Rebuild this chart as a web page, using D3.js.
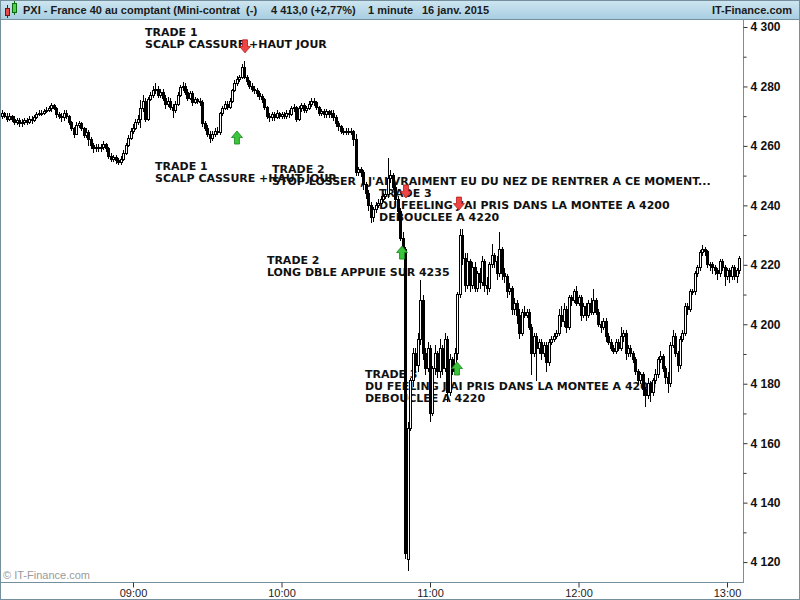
<!DOCTYPE html>
<html>
<head>
<meta charset="utf-8">
<script src="https://cdn.jsdelivr.net/npm/d3@7"></script>
<style>
  body { margin: 0; background: #fff; }
  svg { display: block; }
  .ann text { font-family: "DejaVu Sans", Verdana, sans-serif; font-weight: bold; font-size: 11px; fill: #111; }
  .yaxis text { font-family: "Liberation Sans", Arial, sans-serif; font-weight: bold; font-size: 12px; fill: #111; }
  .xaxis text { font-family: "Liberation Sans", Arial, sans-serif; font-size: 11px; fill: #222; }
  .head text { font-family: "Liberation Sans", Arial, sans-serif; font-weight: bold; font-size: 11px; fill: #1b1b1b; }
</style>
</head>
<body>
<div id="container"></div>
<script>
// 1 minute candles, first one at 08:07 (minutes since midnight)
var startMinute = 487;

var opens = [
 4270,4271,4270,4269,4270,4269,4268,4268.5,4267.5,4268,
 4268.5,4268,4269,4268.5,4269.5,4270.5,4271,4271,4271.5,4272,
 4272.5,4273.5,4272.5,4270.5,4270,4269.5,4271,4270,4268,4266,
 4264,4267,4267.5,4266,4263.5,4264.5,4262,4260,4259,4259.5,
 4259,4259.5,4260.5,4259,4256.5,4255.5,4256,4255,4254.5,4255.5,
 4257.5,4260,4262.5,4265,4266,4268,4269,4272.5,4275,4269,
 4275.5,4277,4278.5,4279,4277,4278,4276,4274,4275,4273,
 4272,4274,4277,4279.5,4280,4278,4276,4277.5,4274.5,4275.5,
 4275,4274.5,4267.5,4266,4264,4262.5,4264,4265,4264.5,4271,
 4272.5,4274,4273,4275,4278.5,4281,4282.5,4283,4286.5,4283,
 4281.5,4280,4279,4278.5,4277.5,4276.5,4275.5,4273,4270,4269.5,
 4270.5,4269.5,4271,4270,4270.5,4270,4271,4270.5,4272.5,4273,
 4269,4272.5,4273.5,4272,4272.5,4274,4275,4274.5,4273,4271,
 4271.5,4270.5,4271.5,4270.5,4271,4269.5,4267.5,4266.5,4265,4264.5,
 4265,4264.5,4265,4262,4251,4252,4251,4247,4244,4240,
 4236,4238.5,4240,4240.5,4242,4243,4243.5,4249,4250,4246,
 4242,4238,4229,4225,4121,4165,4181,4190,4186,4195,
 4208,4190,4185,4192,4170,4185,4190,4184,4192,4185,
 4195,4177,4188,4184,4190,4210,4230,4222,4213,4221,
 4213,4219,4212,4217,4214,4221,4213,4212,4220,4223,
 4221,4217,4225,4217,4216,4211,4212,4205,4207,4203,
 4197,4204,4203,4204,4199,4190,4196,4192,4194,4190,
 4193,4187,4194,4195,4196,4197,4203,4201,4205,4199,
 4209,4208,4211,4207,4209,4203,4206,4203,4207,4204,
 4208,4204,4200,4199,4201,4196,4194,4192,4191,4194,
 4192,4196,4197,4190,4192,4190,4188,4184,4181,4183,
 4178,4176,4180,4177,4181,4183,4188,4189,4185,4182,
 4180,4193,4196,4190,4186,4195,4197,4206,4205,4211,
 4211,4217,4219,4224,4225,4224.5,4220,4220,4219,4218,
 4217,4221,4219,4216,4218,4216,4219,4216,4218
];
var highs = [
 4272,4271.5,4271,4271,4270.5,4270,4269.5,4269.5,4269,4269.5,
 4269.5,4270,4270,4270.5,4271.5,4272,4272,4272.5,4273,4273.5,
 4274.5,4274,4273,4271.5,4271,4272,4272,4270.5,4268.5,4266.5,
 4268,4268.5,4268,4266.5,4266,4265.5,4263,4261,4260.5,4260.5,
 4260.5,4261.5,4261,4259.5,4257.5,4257,4257,4256,4256.5,4258.5,
 4261,4263.5,4266,4267.5,4269,4270.5,4275.5,4277,4276,4276.5,
 4278,4280,4281,4280,4279,4279,4277,4276.5,4276,4274,
 4275,4278,4280.5,4281.5,4281,4279,4278.5,4278.5,4276.5,4276,
 4276,4275.5,4268.5,4267,4265,4265,4266,4266.5,4271.5,4273.5,
 4275,4275,4276,4279,4282,4283.5,4284,4287.5,4288.5,4284,
 4282,4281,4280,4279.5,4278.5,4277.5,4276,4273.5,4271,4271.5,
 4271.5,4272,4271.5,4271.5,4271.5,4272,4272,4273.5,4274,4273.5,
 4273.5,4274.5,4274.5,4273.5,4275,4276,4276,4275,4273.5,4272.5,
 4272.5,4272.5,4272,4272,4272,4270.5,4268.5,4267,4266,4266,
 4266,4266,4265.5,4264,4253,4253,4252,4248,4245,4241,
 4239.5,4241,4242,4243,4244,4245,4256,4252,4251,4247,
 4243,4239,4231,4226,4167,4182,4192,4192,4197,4215,
 4210,4192,4194,4193,4186,4193,4191,4195,4193,4197,
 4196,4190,4189,4192,4211,4232,4232,4224,4224,4222,
 4221,4221,4218,4219,4223,4222,4216,4221,4227,4224,
 4223,4231,4226,4219,4217,4214,4213,4209,4208,4205,
 4205,4206,4205,4205,4200,4197,4197,4195,4195,4194,
 4194,4195,4196,4197,4198,4205,4206,4207,4206,4210,
 4210,4212,4213,4210,4210,4207,4207,4208,4209,4212,
 4209,4205,4201,4202,4202,4197,4195,4193,4195,4195,
 4199,4198,4198,4193,4193,4191,4189,4185,4184,4184,
 4179,4182,4181,4182,4185,4189,4191,4190,4186,4184,
 4194,4198,4197,4191,4196,4198,4207,4207,4212,4212,
 4218,4220,4225,4226.5,4226,4225,4221,4221,4220,4219,
 4222,4222,4220,4219,4219,4220,4220,4219,4223
];
var lows = [
 4269,4269.5,4268,4268.5,4268,4267,4267,4266.5,4266.5,4267,
 4267,4267.5,4267.5,4268,4269,4270,4270,4270.5,4271,4271.5,
 4271.5,4272,4269.5,4269,4268,4268.5,4269,4267,4265,4262.5,
 4263.5,4266,4265,4262.5,4262.5,4260,4259,4257.5,4258,4258,
 4258,4258.5,4258,4255.5,4254.5,4254.5,4254,4253.5,4253.5,4255,
 4257,4259.5,4262,4264,4265.5,4267,4266,4271.5,4268,4268.5,
 4275,4276,4277.5,4276,4276,4275,4272.5,4273,4272,4269.5,
 4271,4273.5,4276.5,4278.5,4277,4275,4275.5,4273.5,4274,4274,
 4273.5,4266.5,4265,4263,4261,4261.5,4263,4263.5,4263.5,4270,
 4272,4272,4272.5,4274.5,4278,4280,4281.5,4282.5,4282.5,4280.5,
 4279,4278,4277.5,4276.5,4275.5,4274.5,4272,4269,4268,4268.5,
 4268.5,4269,4269,4269,4269,4269,4269.5,4270,4271.5,4268,
 4268.5,4271.5,4271,4271,4272,4273,4273.5,4272,4270,4270,
 4269.5,4269.5,4269.5,4269.5,4268.5,4266.5,4265,4264,4263.5,4263.5,
 4263.5,4263.5,4260,4250,4250,4249.5,4245,4242,4238,4234,
 4234.5,4237.5,4239,4239.5,4241,4242,4242.5,4247.5,4245,4240,
 4235,4228,4223,4121,4117,4164,4179,4184,4184,4193,
 4188,4183,4184,4167,4169,4183,4182,4182,4183,4184,
 4174,4176,4183,4183,4188,4209,4220,4211,4212,4211,
 4212,4211,4211,4212,4213,4211,4210,4211,4219,4219,
 4215,4216,4215,4214,4209,4210,4203,4203,4200,4195,
 4196,4202,4202,4198,4183,4189,4181,4190,4188,4189,
 4184,4186,4193,4194,4195,4196,4199,4199,4197,4198,
 4206,4207,4206,4206,4201,4202,4201,4202,4203,4203,
 4203,4199,4197,4198,4194,4193,4191,4190,4190,4191,
 4191,4194,4188,4189,4189,4187,4183,4180,4180,4176,
 4172,4175,4174,4176,4180,4182,4187,4184,4180,4177,
 4179,4192,4189,4184,4185,4194,4196,4203,4204,4210,
 4210,4216,4218,4223,4223,4219,4218,4217,4216.5,4215,
 4216,4218,4213,4215,4214,4215,4215,4214,4217
];
var closes = [
 4271,4270,4269,4270,4269,4268,4268.5,4267.5,4268,4268.5,
 4268,4269,4268.5,4269.5,4270.5,4271,4271,4271.5,4272,4272.5,
 4273.5,4272.5,4270.5,4270,4269.5,4271,4270,4268,4266,4264,
 4267,4267.5,4266,4263.5,4264.5,4262,4260,4259,4259.5,4259,
 4259.5,4260.5,4259,4256.5,4255.5,4256,4255,4254.5,4255.5,4257.5,
 4260,4262.5,4265,4266,4268,4269,4272.5,4275,4269,4275.5,
 4277,4278.5,4279,4277,4278,4276,4274,4275,4273,4272,
 4274,4277,4279.5,4280,4278,4276,4277.5,4274.5,4275.5,4275,
 4274.5,4267.5,4266,4264,4262.5,4264,4265,4264.5,4271,4272.5,
 4274,4273,4275,4278.5,4281,4282.5,4283,4286.5,4283,4281.5,
 4280,4279,4278.5,4277.5,4276.5,4275.5,4273,4270,4269.5,4270.5,
 4269.5,4271,4270,4270.5,4270,4271,4270.5,4272.5,4273,4269,
 4272.5,4273.5,4272,4272.5,4274,4275,4274.5,4273,4271,4271.5,
 4270.5,4271.5,4270.5,4271,4269.5,4267.5,4266.5,4265,4264.5,4265,
 4264.5,4265,4262,4251,4252,4251,4247,4244,4240,4236,
 4238.5,4240,4240.5,4242,4243,4243.5,4249,4250,4246,4242,
 4238,4229,4225,4123,4165,4181,4190,4186,4195,4208,
 4190,4185,4192,4170,4185,4190,4184,4192,4185,4195,
 4177,4188,4184,4190,4210,4230,4222,4213,4221,4213,
 4219,4212,4217,4214,4221,4213,4212,4220,4223,4221,
 4217,4225,4217,4216,4211,4212,4205,4207,4203,4197,
 4204,4203,4204,4199,4190,4196,4192,4194,4190,4193,
 4187,4194,4195,4196,4197,4203,4201,4205,4199,4209,
 4208,4211,4207,4209,4203,4206,4203,4207,4204,4208,
 4204,4200,4199,4201,4196,4194,4192,4191,4194,4192,
 4196,4197,4190,4192,4190,4188,4184,4181,4183,4178,
 4176,4180,4177,4181,4183,4188,4189,4185,4182,4180,
 4193,4196,4190,4186,4195,4197,4206,4205,4211,4211,
 4217,4219,4224,4225,4224.5,4220,4220,4219,4218,4217,
 4221,4219,4216,4218,4216,4219,4216,4218,4222
];

var priceTicks = [4120, 4140, 4160, 4180, 4200, 4220, 4240, 4260, 4280, 4300];
var priceMinorTicks = [4130, 4150, 4170, 4190, 4210, 4230, 4250, 4270, 4290];
var timeTicks = [540, 600, 660, 720, 780];
var timeLabels = ["09:00", "10:00", "11:00", "12:00", "13:00"];

// annotations typed on the chart (anchor = minute, price of first baseline)
var noteMinutes = [544.85, 548.9, 596.2, 639.4, 594.1, 633.7];
var notePrices = [4296.9, 4251.9, 4250.8, 4242.8, 4220.4, 4181.8];
var noteLines = [
    ["TRADE 1", "SCALP CASSURE +HAUT JOUR"],
    ["TRADE 1", "SCALP CASSURE +HAUT JOUR"],
    ["TRADE 2", "STOP LOSSER , J'AI VRAIMENT EU DU NEZ DE RENTRER A CE MOMENT..."],
    ["TRADE 3", "DU FEELING J'AI PRIS DANS LA MONTEE A 4200", "DEBOUCLEE A 4220"],
    ["TRADE 2", "LONG DBLE APPUIE SUR 4235"],
    ["TRADE 3", "DU FEELING J'AI PRIS DANS LA MONTEE A 4200", "DEBOUCLEE A 4220"]
];

// buy / sell markers (anchor = arrow tip)
var arrowMinutes = [585.25, 582.0, 650.3, 671.7, 648.7, 670.9];
var arrowPrices = [4291.3, 4265.0, 4242.5, 4238.4, 4226.3, 4187.3];
var arrowDirs = ["down", "up", "down", "down", "up", "up"];

var width = 800, height = 600,
    plot = {left: 0, top: 20, right: 743, bottom: 582},
    frameColor = "#748f9e";

var candles = closes.map(function(c, i) {
    return {t: startMinute + i, o: opens[i], h: highs[i], l: lows[i], c: c};
});

var x = d3.scaleLinear()
    .domain([486.26, 786.26])
    .range([0, 742.5]);
var y = d3.scaleLinear()
    .domain([4113.3, 4302.35])
    .range([plot.bottom, plot.top]);

var fr = d3.formatLocale({decimal: ",", thousands: " ", grouping: [3], currency: ["", ""]});
var priceFormat = fr.format(",d");

var svg = d3.select("#container").append("svg")
    .attr("width", width)
    .attr("height", height)
    .style("shape-rendering", "auto");

var defs = svg.append("defs");
var grad = defs.append("linearGradient")
    .attr("id", "headGrad")
    .attr("x1", 0).attr("y1", 0).attr("x2", 0).attr("y2", 1);
grad.append("stop").attr("offset", "0%").attr("stop-color", "#cfe6f1");
grad.append("stop").attr("offset", "100%").attr("stop-color", "#a6cde0");

svg.append("rect")
    .attr("width", width).attr("height", height)
    .attr("fill", "#fff");

// header bar
var head = svg.append("g").attr("class", "head");
head.append("rect")
    .attr("x", 0).attr("y", 0)
    .attr("width", width).attr("height", 20)
    .attr("fill", "url(#headGrad)");
head.append("line")
    .attr("x1", 0).attr("x2", width)
    .attr("y1", 19.5).attr("y2", 19.5)
    .attr("stroke", frameColor);

// little candle icon
var icon = head.append("g").style("shape-rendering", "crispEdges");
icon.append("line").attr("x1", 7.5).attr("x2", 7.5).attr("y1", 5).attr("y2", 18).attr("stroke", "#7a1010");
icon.append("rect").attr("x", 5.5).attr("y", 8.5).attr("width", 4).attr("height", 7)
    .attr("fill", "#e84a4a").attr("stroke", "#7a1010");
icon.append("line").attr("x1", 14.5).attr("x2", 14.5).attr("y1", 1).attr("y2", 15).attr("stroke", "#0e6a0e");
icon.append("rect").attr("x", 12.5).attr("y", 3.5).attr("width", 4).attr("height", 9)
    .attr("fill", "#4fd04f").attr("stroke", "#0e6a0e");

var headTexts = [
    {x: 23, t: "PXI - France 40 au comptant (Mini-contrat  (-)", a: "start"},
    {x: 271, t: "4 413,0 (+2,77%)", a: "start"},
    {x: 368, t: "1 minute", a: "start"},
    {x: 422, t: "16 janv. 2015", a: "start"},
    {x: 792, t: "IT-Finance.com", a: "end"}
];
head.selectAll("text.h")
    .data(headTexts)
    .enter().append("text")
    .attr("class", "h")
    .attr("x", function(d) { return d.x; })
    .attr("y", 14)
    .attr("text-anchor", function(d) { return d.a; })
    .attr("xml:space", "preserve")
    .style("white-space", "pre")
    .text(function(d) { return d.t; });

// annotations (drawn under the candles, like the original)
var ann = svg.append("g").attr("class", "ann");
noteLines.forEach(function(lines, k) {
    var t = ann.append("text")
        .attr("x", x(noteMinutes[k]))
        .attr("y", y(notePrices[k]));
    lines.forEach(function(line, j) {
        t.append("tspan")
            .attr("x", x(noteMinutes[k]))
            .attr("dy", j === 0 ? 0 : 12)
            .text(line);
    });
});

// candles
var cg = svg.append("g")
    .attr("class", "candles")
    .style("shape-rendering", "crispEdges");

cg.selectAll("line.wick")
    .data(candles)
    .enter().append("line")
    .attr("class", "wick")
    .attr("x1", function(d) { return Math.round(x(d.t)) + 0.5; })
    .attr("x2", function(d) { return Math.round(x(d.t)) + 0.5; })
    .attr("y1", function(d) { return y(d.h); })
    .attr("y2", function(d) { return y(d.l); })
    .attr("stroke", "#000");

cg.selectAll("rect.body")
    .data(candles)
    .enter().append("rect")
    .attr("class", "body")
    .attr("x", function(d) { return Math.round(x(d.t)) - 0.5; })
    .attr("y", function(d) { return y(Math.max(d.o, d.c)); })
    .attr("width", 2)
    .attr("height", function(d) { return Math.max(1, Math.abs(y(d.o) - y(d.c))); })
    .attr("fill", function(d) { return d.c >= d.o ? "#fff" : "#000"; })
    .attr("stroke", "#000")
    .attr("stroke-width", 1);

// arrows
function arrowPath(dir) {
    var s = dir === "down" ? -1 : 1;
    return "M-2.5," + (13 * s) + "L2.5," + (13 * s) + "L2.5," + (6.5 * s) +
        "L5.5," + (6.5 * s) + "L0,0L-5.5," + (6.5 * s) + "L-2.5," + (6.5 * s) + "Z";
}
svg.append("g").attr("class", "arrows")
    .selectAll("path")
    .data(arrowDirs)
    .enter().append("path")
    .attr("transform", function(d, i) {
        return "translate(" + x(arrowMinutes[i]) + "," + y(arrowPrices[i]) + ")";
    })
    .attr("d", function(d) { return arrowPath(d); })
    .attr("fill", function(d) { return d === "down" ? "#ee4444" : "#3cc43c"; })
    .attr("stroke", function(d) { return d === "down" ? "#b31b1b" : "#15861a"; })
    .attr("stroke-width", 0.8);

// frame
var frame = svg.append("g").style("shape-rendering", "crispEdges");
frame.append("line")
    .attr("x1", 0.5).attr("x2", 0.5).attr("y1", 20).attr("y2", height)
    .attr("stroke", frameColor);
frame.append("line")
    .attr("x1", 0).attr("x2", plot.right + 0.5).attr("y1", plot.bottom + 0.5).attr("y2", plot.bottom + 0.5)
    .attr("stroke", frameColor);
frame.append("line")
    .attr("x1", plot.right + 0.5).attr("x2", plot.right + 0.5).attr("y1", 20).attr("y2", plot.bottom + 0.5)
    .attr("stroke", frameColor);
frame.append("rect")
    .attr("x", 0.5).attr("y", 0.5).attr("width", width - 1).attr("height", height - 1)
    .attr("fill", "none").attr("stroke", frameColor);

// right price axis
var yAxis = svg.append("g")
    .attr("class", "yaxis")
    .attr("transform", "translate(" + (plot.right + 0.5) + ",0)")
    .call(d3.axisRight(y).tickValues(priceTicks).tickSize(4).tickPadding(3).tickFormat(priceFormat));
yAxis.select(".domain").remove();
yAxis.selectAll(".tick line").attr("stroke", "#333");

var yMinor = svg.append("g")
    .attr("transform", "translate(" + (plot.right + 0.5) + ",0)")
    .call(d3.axisRight(y).tickValues(priceMinorTicks).tickSize(3).tickFormat(""));
yMinor.select(".domain").remove();
yMinor.selectAll(".tick line").attr("stroke", "#333");

// bottom time axis
var xAxis = svg.append("g")
    .attr("class", "xaxis")
    .attr("transform", "translate(0," + (plot.bottom + 0.5) + ")")
    .call(d3.axisBottom(x).tickValues(timeTicks).tickSize(5).tickPadding(2)
        .tickFormat(function(d, i) { return timeLabels[i]; }));
xAxis.select(".domain").remove();
xAxis.selectAll(".tick line").attr("stroke", "#333");

svg.append("text")
    .attr("x", 3)
    .attr("y", 579)
    .style("font-family", "'Liberation Sans', Arial, sans-serif")
    .style("font-size", "11px")
    .attr("fill", "#9a9a9a")
    .text("\u00a9 IT-Finance.com");
</script>
</body>
</html>
